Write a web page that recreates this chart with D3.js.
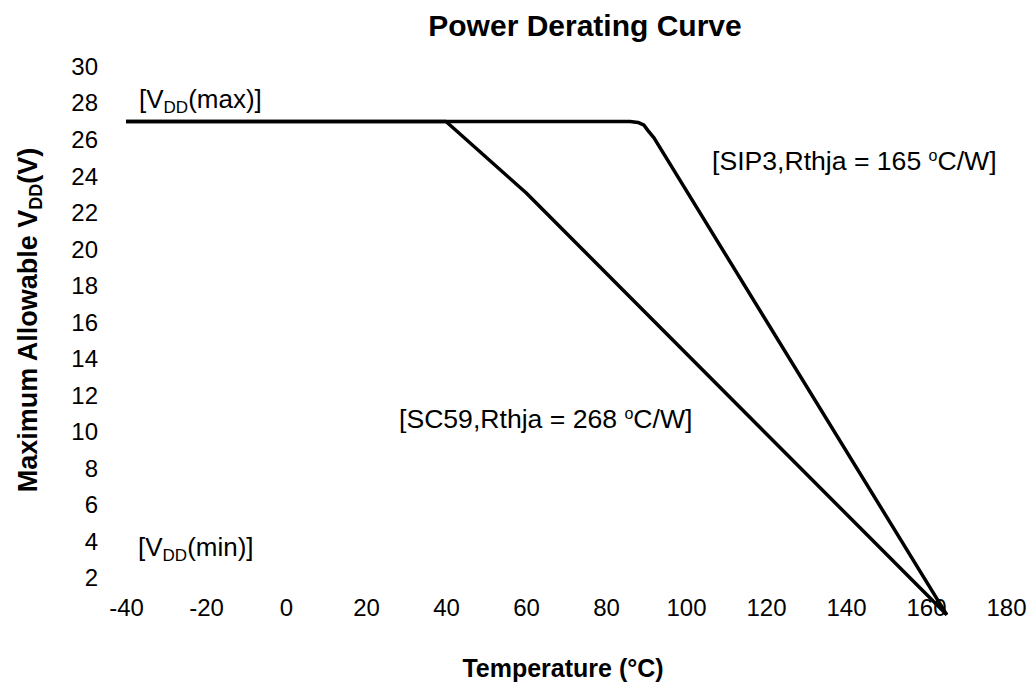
<!DOCTYPE html>
<html><head><meta charset="utf-8">
<script src="https://cdn.jsdelivr.net/npm/d3@7"></script>
<style>
body{margin:0;background:#fff}
svg{display:block}
text{font-family:"Liberation Sans",Arial,Helvetica,sans-serif;fill:#000}
</style>
</head><body>
<svg id="chart" width="1033" height="687"></svg>
<script>
// ---- data ----
const xTickValues = [-40, -20, 0, 20, 40, 60, 80, 100, 120, 140, 160, 180];
const yTickValues = [2, 4, 6, 8, 10, 12, 14, 16, 18, 20, 22, 24, 26, 28, 30];
const sip3Temp = [-40, 86, 88, 89.5, 90.5, 92, 165.2];
const sip3Vdd  = [27, 27, 26.95, 26.8, 26.5, 26.1, 0];
const sc59Temp = [-40, 40, 60, 165.2];
const sc59Vdd  = [27, 27, 23.1, 0];

const svg = d3.select("#chart");
const x = d3.scaleLinear().domain([-40, 180]).range([126, 1006]);
const y = d3.scaleLinear().domain([0, 30]).range([614.8, 66.7]);

// x axis (labels only)
const gx = svg.append("g").attr("transform", `translate(0,${y(1)})`)
  .call(d3.axisBottom(x).tickValues(xTickValues).tickSize(0).tickPadding(2).tickFormat(d => String(d)));
gx.select(".domain").remove();
gx.selectAll("text").attr("font-size", 24).attr("font-family", null);

// y axis (labels only)
const gy = svg.append("g").attr("transform", `translate(108,0)`)
  .call(d3.axisLeft(y).tickValues(yTickValues).tickSize(0).tickPadding(10).tickFormat(d => String(d)));
gy.select(".domain").remove();
gy.selectAll("text").attr("font-size", 24).attr("font-family", null);

// lines
const line = d3.line().x(d => x(d[0])).y(d => y(d[1]));
const sip3 = sip3Temp.map((t, i) => [t, sip3Vdd[i]]);
const sc59 = sc59Temp.map((t, i) => [t, sc59Vdd[i]]);
[sc59, sip3].forEach(data => {
  svg.append("path").datum(data).attr("d", line)
    .attr("fill", "none").attr("stroke", "#000").attr("stroke-width", 3.5)
    .attr("stroke-linejoin", "round").attr("stroke-linecap", "butt");
});

// title & axis titles
svg.append("text").attr("x", 585).attr("y", 36).attr("text-anchor", "middle")
  .attr("font-size", 30).attr("font-weight", "bold").text("Power Derating Curve");
svg.append("text").attr("x", 563).attr("y", 677).attr("text-anchor", "middle")
  .attr("font-size", 25).attr("font-weight", "bold").text("Temperature (°C)");
const yt = svg.append("text").attr("transform", "translate(37,320) rotate(-90)")
  .attr("text-anchor", "middle").attr("font-size", 27).attr("font-weight", "bold");
yt.append("tspan").text("Maximum Allowable V");
yt.append("tspan").attr("font-size", 18).attr("dy", 5).text("DD");
yt.append("tspan").attr("dy", -5).text("(V)");

// annotations
function vdd(xp, yp, word) {
  const t = svg.append("text").attr("x", xp).attr("y", yp).attr("font-size", 26);
  t.append("tspan").text("[V");
  t.append("tspan").attr("font-size", 17).attr("dy", 5).text("DD");
  t.append("tspan").attr("dy", -5).text("(" + word + ")]");
}
vdd(139, 108, "max");
vdd(138, 556, "min");

function rth(xp, yp, pkg, r) {
  const t = svg.append("text").attr("x", xp).attr("y", yp).attr("font-size", 26.6);
  t.append("tspan").text(`[${pkg},Rthja = ${r} `);
  t.append("tspan").attr("font-size", 16).attr("dy", -9).text("o");
  t.append("tspan").attr("dy", 9).text("C/W]");
}
rth(712, 170, "SIP3", 165);
rth(399, 428, "SC59", 268);
</script>
</body></html>
